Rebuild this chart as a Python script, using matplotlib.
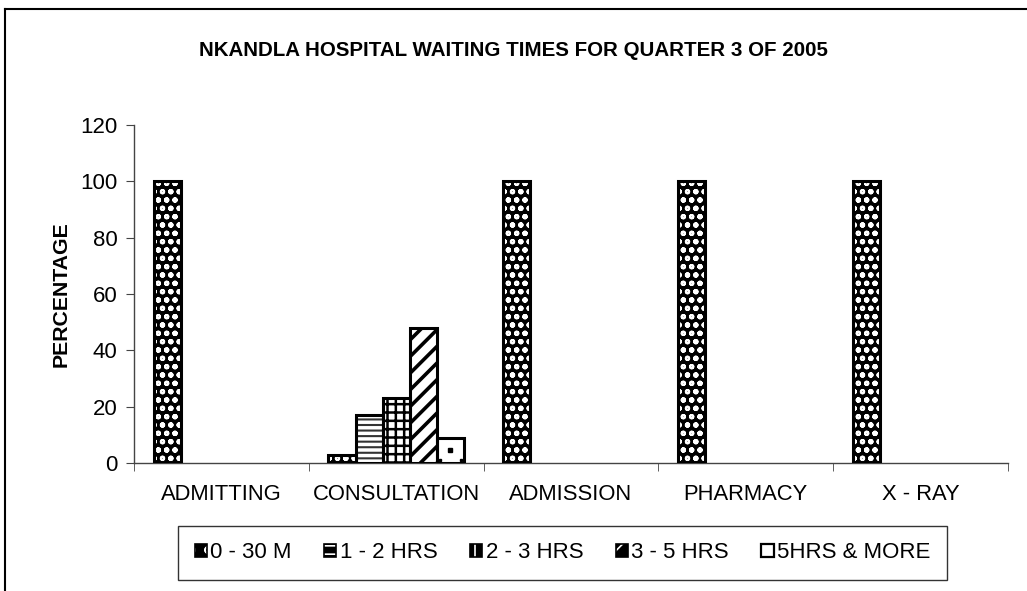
import matplotlib
matplotlib.use("Agg")
import matplotlib.pyplot as plt
import numpy as np
from matplotlib.lines import Line2D
from matplotlib.patches import Patch
from matplotlib.legend_handler import HandlerTuple

plt.rcParams['font.family'] = ['Liberation Sans', 'DejaVu Sans']
plt.rcParams['hatch.linewidth'] = 1.5

categories = ["ADMITTING", "CONSULTATION", "ADMISSION", "PHARMACY", "X - RAY"]
series_names = ["0 - 30 M", "1 - 2 HRS", "2 - 3 HRS", "3 - 5 HRS", "5HRS & MORE"]
values = {
    "0 - 30 M":    [100, 3, 100, 100, 100],
    "1 - 2 HRS":   [0, 17, 0, 0, 0],
    "2 - 3 HRS":   [0, 23, 0, 0, 0],
    "3 - 5 HRS":   [0, 48, 0, 0, 0],
    "5HRS & MORE": [0, 9, 0, 0, 0],
}
yticks = [0, 20, 40, 60, 80, 100, 120]

styles = {
    "0 - 30 M":    dict(face="black", hcol="white", hatch="oo", hlw=1.5, lhatch="o"),
    "1 - 2 HRS":   dict(face="white", hcol="#333333", hatch="---", hlw=1.5, lhatch="--"),
    "2 - 3 HRS":   dict(face="white", hcol="black", hatch="++", hlw=1.8, lhatch="|"),
    "3 - 5 HRS":   dict(face="white", hcol="black", hatch="//", hlw=2.6, lhatch="/"),
    "5HRS & MORE": dict(face="white", hcol="black", hatch="", hlw=1.5, lhatch=""),
}

fig = plt.figure(figsize=(10.27, 5.91), dpi=100)
ax = fig.add_axes([134/1027, 1-463/591, (1008-134)/1027, (463-125)/591])

n = len(series_names)
bw = 0.155
x = np.arange(len(categories))
for i, s in enumerate(series_names):
    st = styles[s]
    pos = x - 0.5 + (1 - n*bw)/2 + bw*i + bw/2
    vals = np.array(values[s], dtype=float)
    keep = vals > 0
    plt.rcParams['hatch.linewidth'] = st["hlw"]
    bars = ax.bar(pos[keep], vals[keep], width=bw, color=st["face"], edgecolor=st["hcol"],
                  hatch=st["hatch"], linewidth=0, zorder=2)
    for b in bars:
        if hasattr(b, "set_hatch_linewidth"):
            b.set_hatch_linewidth(st["hlw"])
    ax.bar(pos[keep], vals[keep], width=bw, fill=False, edgecolor="black", linewidth=2.2, zorder=3)
    if s == "5HRS & MORE":
        for p, v in zip(pos[keep], vals[keep]):
            ax.plot([p], [v*0.5], marker="s", ms=2.2, color="black", zorder=4)
            ax.plot([p - bw*0.38, p + bw*0.38], [v*0.12, v*0.12], ls="none",
                    marker="s", ms=1.6, color="black", zorder=4)
plt.rcParams['hatch.linewidth'] = 1.2

ax.set_xlim(-0.5, len(categories)-0.5)
ax.set_ylim(0, 120)
ax.set_yticks(yticks)
ax.set_xticks(x)
ax.set_xticklabels(categories)
ax.set_xticks(np.arange(len(categories)+1)-0.5, minor=True)
ax.tick_params(axis='x', which='major', length=0, pad=15, labelsize=15.8)
ax.tick_params(axis='x', which='minor', length=6, direction='out', color='#444444')
ax.tick_params(axis='y', length=6, direction='out', labelsize=16, color='#444444', pad=6)
for sp in ['top', 'right']:
    ax.spines[sp].set_visible(False)
for sp in ['left', 'bottom']:
    ax.spines[sp].set_color('#444444')
    ax.spines[sp].set_linewidth(1)

ax.set_ylabel("PERCENTAGE", fontsize=15.3, fontweight='bold', labelpad=7)
fig.text(513/1027, 1-50/591, "NKANDLA HOSPITAL WAITING TIMES FOR QUARTER 3 OF 2005",
         ha='center', va='center', fontsize=14.8, fontweight='bold')

# legend (small dark swatches like the original)
handles = []
for s in series_names:
    st = styles[s]
    if st["face"] == "black" or st["lhatch"]:
        inner = Patch(facecolor="black", edgecolor="white", hatch=st["lhatch"], linewidth=0)
        outer = Patch(facecolor="none", edgecolor="black", linewidth=1.2)
        handles.append((inner, outer))
    else:
        handles.append((Patch(facecolor="white", edgecolor="black", linewidth=1.6),))
leg = fig.legend(handles, series_names, loc='lower left',
                 handler_map={tuple: HandlerTuple(ndivide=1, pad=0)},
                 bbox_to_anchor=(178/1027, 1-580/591, (947-178)/1027, (580-519)/591),
                 mode='expand', ncol=5, fontsize=16, frameon=True, fancybox=False,
                 handlelength=0.55, handleheight=0.55, handletextpad=0.15, borderaxespad=0,
                 columnspacing=1.0, borderpad=0.75)
leg.get_frame().set_edgecolor('black')
leg.get_frame().set_linewidth(1)

# outer border (top and left)
fig.add_artist(Line2D([5/1027, 5/1027], [0, 1-9/591], transform=fig.transFigure, color='black', lw=1.5))
fig.add_artist(Line2D([5/1027, 1], [1-9/591, 1-9/591], transform=fig.transFigure, color='black', lw=1.5))

fig.savefig("out.png", dpi=100)
